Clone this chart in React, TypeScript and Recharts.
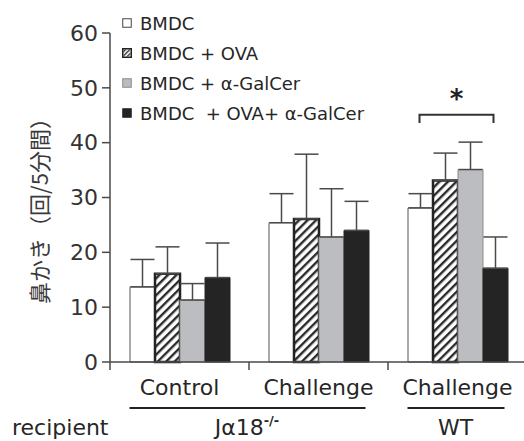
import React from 'react';
import { BarChart, Bar, XAxis, YAxis, ErrorBar, Legend, Label } from 'recharts';

// ---- data ----
const categories = ['Control', 'Challenge', 'Challenge'];
const seriesNames = ['BMDC', 'BMDC + OVA', 'BMDC + α-GalCer', 'BMDC  + OVA+ α-GalCer'];
const bmdc = [13.7, 25.4, 28.1];
const bmdcErr = [5.0, 5.3, 2.6];
const ova = [16.1, 26.1, 33.1];
const ovaErr = [4.9, 11.8, 5.0];
const galcer = [11.3, 22.8, 35.1];
const galcerErr = [3.0, 8.8, 5.0];
const combo = [15.4, 24.0, 17.1];
const comboErr = [6.3, 5.3, 5.7];
const yTicks = [0, 10, 20, 30, 40, 50, 60];
const yLabel = '鼻かき（回/5分間）';
const groups = [
  { name: 'Jα18', sup: '-/-', start: 0, end: 1 },
  { name: 'WT', sup: '', start: 2, end: 2 },
];
const groupTitle = 'recipient';
const significance = { category: 2, top: 45.1, low: 43.6, mark: '*' };

const data = categories.map((name, i) => ({
  name,
  bmdc: bmdc[i],
  bmdcErr: [0, bmdcErr[i]],
  ova: ova[i],
  ovaErr: [0, ovaErr[i]],
  galcer: galcer[i],
  galcerErr: [0, galcerErr[i]],
  combo: combo[i],
  comboErr: [0, comboErr[i]],
}));

// ---- layout / style ----
const W = 527;
const H = 441;
const Y_W = 110;
const X_H = 79;
const TOP = 33;
const BAND = (W - Y_W) / categories.length;
const FONT = '"DejaVu Sans", "Liberation Sans", Arial, sans-serif';
const CJK = '"Noto Sans CJK JP", "Noto Sans CJK SC", sans-serif';
const AXIS = '#4a4a4a';
const TEXT = '#262626';

const styles = [
  { key: 'bmdc', err: 'bmdcErr', fill: '#ffffff', stroke: '#555555', sw: 1 },
  { key: 'ova', err: 'ovaErr', fill: 'url(#hatch)', stroke: '#222222', sw: 2.5 },
  { key: 'galcer', err: 'galcerErr', fill: '#bcbdc1', stroke: '#8a8a8a', sw: 1 },
  { key: 'combo', err: 'comboErr', fill: '#242424', stroke: '#242424', sw: 1 },
];

const XTick = (props: any) => {
  const { x, y, payload, index } = props;
  const grp = groups.find((g) => g.start === index);
  return (
    <g>
      <line x1={x - BAND / 2} x2={x - BAND / 2} y1={y} y2={y + 8} stroke={AXIS} strokeWidth={1.5} />
      <text x={x} y={y + 33} textAnchor="middle" fontSize={22} fontFamily={FONT} fill={TEXT}>
        {payload.value}
      </text>
      {index === 0 && (
        <text x={12} y={y + 73} fontSize={22} fontFamily={FONT} fill={TEXT}>
          {groupTitle}
        </text>
      )}
      {grp && (
        <g>
          <line
            x1={x - 50}
            x2={x + (grp.end - grp.start) * BAND + 47}
            y1={y + 46}
            y2={y + 46}
            stroke="#222"
            strokeWidth={2}
          />
          <text
            x={x + ((grp.end - grp.start) * BAND) / 2 - 2}
            y={y + 73}
            textAnchor="middle"
            fontSize={22}
            fontFamily={FONT}
            fill={TEXT}
          >
            {grp.name}
            {grp.sup && (
              <tspan fontSize={13} dy={-10} fontWeight="bold">
                {grp.sup}
              </tspan>
            )}
          </text>
        </g>
      )}
    </g>
  );
};

const YLabelContent = (props: any) => {
  const vb = props.viewBox || {};
  const cx = (vb.x || 0) + 38;
  const cy = (vb.y || 0) + (vb.height || 0) / 2 + 8;
  return (
    <text
      x={cx}
      y={cy}
      transform={`rotate(-90 ${cx} ${cy})`}
      textAnchor="middle"
      dominantBaseline="central"
      fontSize={22}
      fontFamily={CJK}
      fill="#3a3a3a"
    >
      {yLabel}
    </text>
  );
};

const SigLabel = (props: any) => {
  const x = Number(props.x);
  const y = Number(props.y);
  const width = Number(props.width);
  const height = Number(props.height);
  const value = Number(props.value);
  if (props.index !== significance.category || !value) return <g />;
  const base = y + height;
  const k = height / value;
  const yTop = base - significance.top * k;
  const yLow = base - significance.low * k;
  const x1 = x + width / 2 - 1;
  const x2 = x1 + width * 3 - 1;
  return (
    <g>
      <path d={`M${x1},${yLow} L${x1},${yTop} L${x2},${yTop} L${x2},${yLow}`} fill="none" stroke="#333" strokeWidth={2} />
      <text x={(x1 + x2) / 2} y={yTop - 7} textAnchor="middle" fontSize={26} fontWeight="bold" fontFamily={FONT} fill="#222">
        {significance.mark}
      </text>
    </g>
  );
};

const Swatch = ({ i }: { i: number }) => {
  const s = styles[i];
  return (
    <svg width={10} height={10} style={{ display: 'block' }}>
      <defs>
        <pattern id="hatchSmall" width="3" height="3" patternUnits="userSpaceOnUse" patternTransform="rotate(45)">
          <rect x="0" y="0" width="1.3" height="3" fill="#222" />
        </pattern>
      </defs>
      <rect
        x={0.75}
        y={0.75}
        width={8.5}
        height={8.5}
        fill={i === 1 ? '#fff' : s.fill}
        stroke={i === 1 ? '#222' : i === 0 ? '#444' : s.stroke}
        strokeWidth={i === 1 ? 1.5 : 1}
      />
      {i === 1 && <rect x={1.5} y={1.5} width={7} height={7} fill="url(#hatchSmall)" />}
    </svg>
  );
};

const LegendContent = () => (
  <div style={{ fontFamily: FONT, fontSize: 18, color: TEXT }}>
    {seriesNames.map((n, i) => (
      <div key={i} style={{ display: 'flex', alignItems: 'center', height: 30 }}>
        <Swatch i={i} />
        <span style={{ marginLeft: 8, whiteSpace: 'pre' }}>{n}</span>
      </div>
    ))}
  </div>
);

export default function App() {
  return (
    <div style={{ position: 'absolute', left: 0, top: 0, width: 524, height: 441, overflow: 'hidden', background: '#fff' }}>
      <BarChart
        width={W}
        height={H}
        data={data}
        margin={{ top: TOP, right: 0, bottom: 0, left: 0 }}
        barSize={25}
        barGap={0}
      >
        <defs>
          <pattern id="hatch" width="6" height="6" patternUnits="userSpaceOnUse" patternTransform="rotate(45)">
            <rect x="0" y="0" width="6" height="6" fill="#fff" />
            <rect x="0" y="0" width="2.4" height="6" fill="#2a2a2a" />
          </pattern>
        </defs>
        <XAxis
          dataKey="name"
          height={X_H}
          tickLine={false}
          tickSize={0}
          tickMargin={0}
          axisLine={{ stroke: AXIS, strokeWidth: 1.5 }}
          tick={<XTick />}
          interval={0}
        />
        <YAxis
          width={Y_W}
          domain={[0, 60]}
          ticks={yTicks}
          interval={0}
          tickSize={8}
          tickMargin={4}
          axisLine={{ stroke: AXIS, strokeWidth: 1.5 }}
          tickLine={{ stroke: AXIS, strokeWidth: 1.5 }}
          tick={{ fontSize: 22, fontFamily: FONT, fill: '#333' }}
        >
          <Label content={<YLabelContent />} />
        </YAxis>
        <Legend
          layout="vertical"
          align="center"
          verticalAlign="middle"
          content={<LegendContent />}
          wrapperStyle={{ position: 'absolute', left: 122, top: 8, width: 320 }}
        />
        {styles.map((s, i) => (
          <Bar
            key={s.key}
            dataKey={s.key}
            name={seriesNames[i]}
            fill={s.fill}
            stroke={s.stroke}
            strokeWidth={s.sw}
            isAnimationActive={false}
            label={i === 0 ? (p: any) => <SigLabel {...p} /> : undefined}
          >
            <ErrorBar dataKey={s.err} width={12} stroke="#4a4a4a" strokeWidth={1.5} direction="y" />
          </Bar>
        ))}
      </BarChart>
    </div>
  );
}
